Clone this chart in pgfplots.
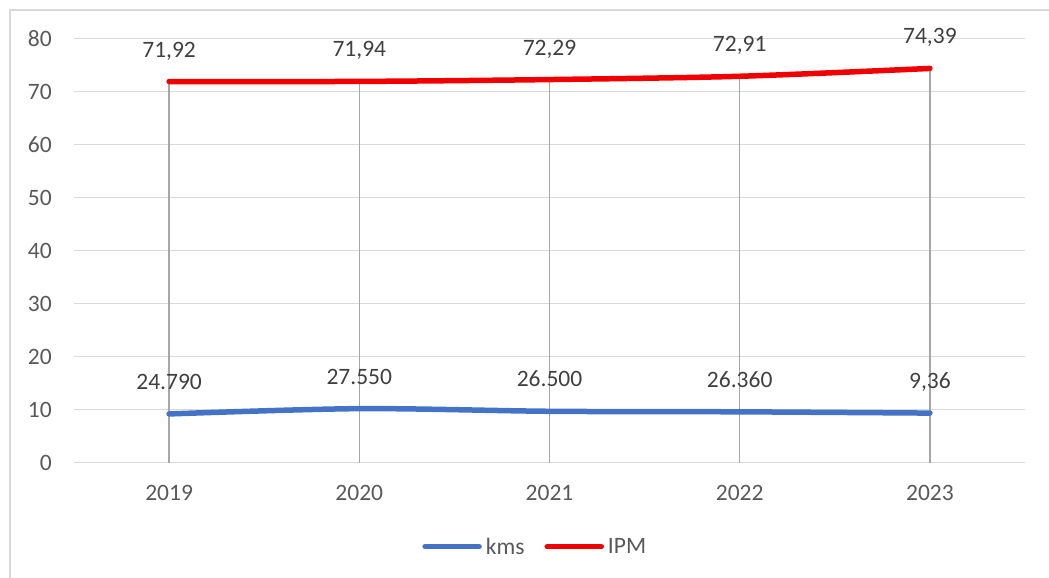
\documentclass[border=0pt]{standalone}
\usepackage{fontspec}
\setmainfont{Carlito}
\usepackage{pgfplots}
\usepackage{pgfplotstable}
\pgfplotsset{compat=1.18}
\definecolor{kblue}{HTML}{4472C4}
\definecolor{kred}{HTML}{F00000}
\definecolor{gridc}{HTML}{D9D9D9}
\definecolor{dropc}{HTML}{A6A6A6}
\definecolor{tickc}{HTML}{595959}
\definecolor{labc}{HTML}{404040}
\pgfplotstableread{
x y label
0 9.20 24.790
1 10.20 27.550
2 9.70 26.500
3 9.60 26.360
4 9.36 9,36
}\kms
\pgfplotstableread{
x y label
0 71.92 71,92
1 71.94 71,94
2 72.29 72,29
3 72.91 72,91
4 74.39 74,39
}\ipm
\newcommand{\cfont}{\fontsize{23.5}{28}\selectfont}
\begin{document}
\begin{tikzpicture}
\begin{axis}[
  name=ax,
  scale only axis, width=951pt, height=424pt,
  xmin=-0.5, xmax=4.5, ymin=0, ymax=80,
  xtick={0,...,4}, xticklabels={2019,2020,2021,2022,2023},
  ytick={0,10,...,80},
  axis line style={draw=none},
  major tick length=0pt,
  ymajorgrids, grid style={gridc, line width=1.5pt},
  /pgf/number format/assume math mode=true,
  ticklabel style={font=\cfont, text=tickc, inner sep=0pt},
  yticklabel style={xshift=-22pt},
  xticklabel style={yshift=-22pt},
  clip=false,
  legend style={at={(0.485,-0.198)}, anchor=center, draw=none, fill=none,
    font=\cfont, text=tickc, legend columns=2,
    /tikz/every even column/.append style={column sep=18pt},
    /tikz/every odd column/.append style={column sep=2pt}},
  legend image code/.code={\draw[#1, line cap=round] (0pt,0pt) -- (54pt,0pt);},
  nodes near coords style={anchor=base, yshift=24.5pt, font=\cfont, text=labc, inner sep=0pt},
]
\addplot[ycomb, dropc, line width=1.5pt, forget plot] table[x=x, y=y] {\ipm};
\addplot[kblue, line width=5.5pt, smooth, line cap=round, nodes near coords, point meta=explicit symbolic] table[x=x, y=y, meta=label] {\kms};
\addlegendentry{kms}
\addplot[kred, line width=5.5pt, smooth, line cap=round, nodes near coords, point meta=explicit symbolic] table[x=x, y=y, meta=label] {\ipm};
\addlegendentry{IPM}
\end{axis}
\pgfresetboundingbox
\useasboundingbox ([shift={(-74pt,-115.3pt)}]ax.south west) rectangle ([shift={(975pt,462.7pt)}]ax.south west);
\draw[gridc, line width=1.5pt] ([shift={(-64pt,-140pt)}]ax.south west) -- ([shift={(-64pt,452.7pt)}]ax.south west) -- ([shift={(1000pt,452.7pt)}]ax.south west);
\end{tikzpicture}
\end{document}
